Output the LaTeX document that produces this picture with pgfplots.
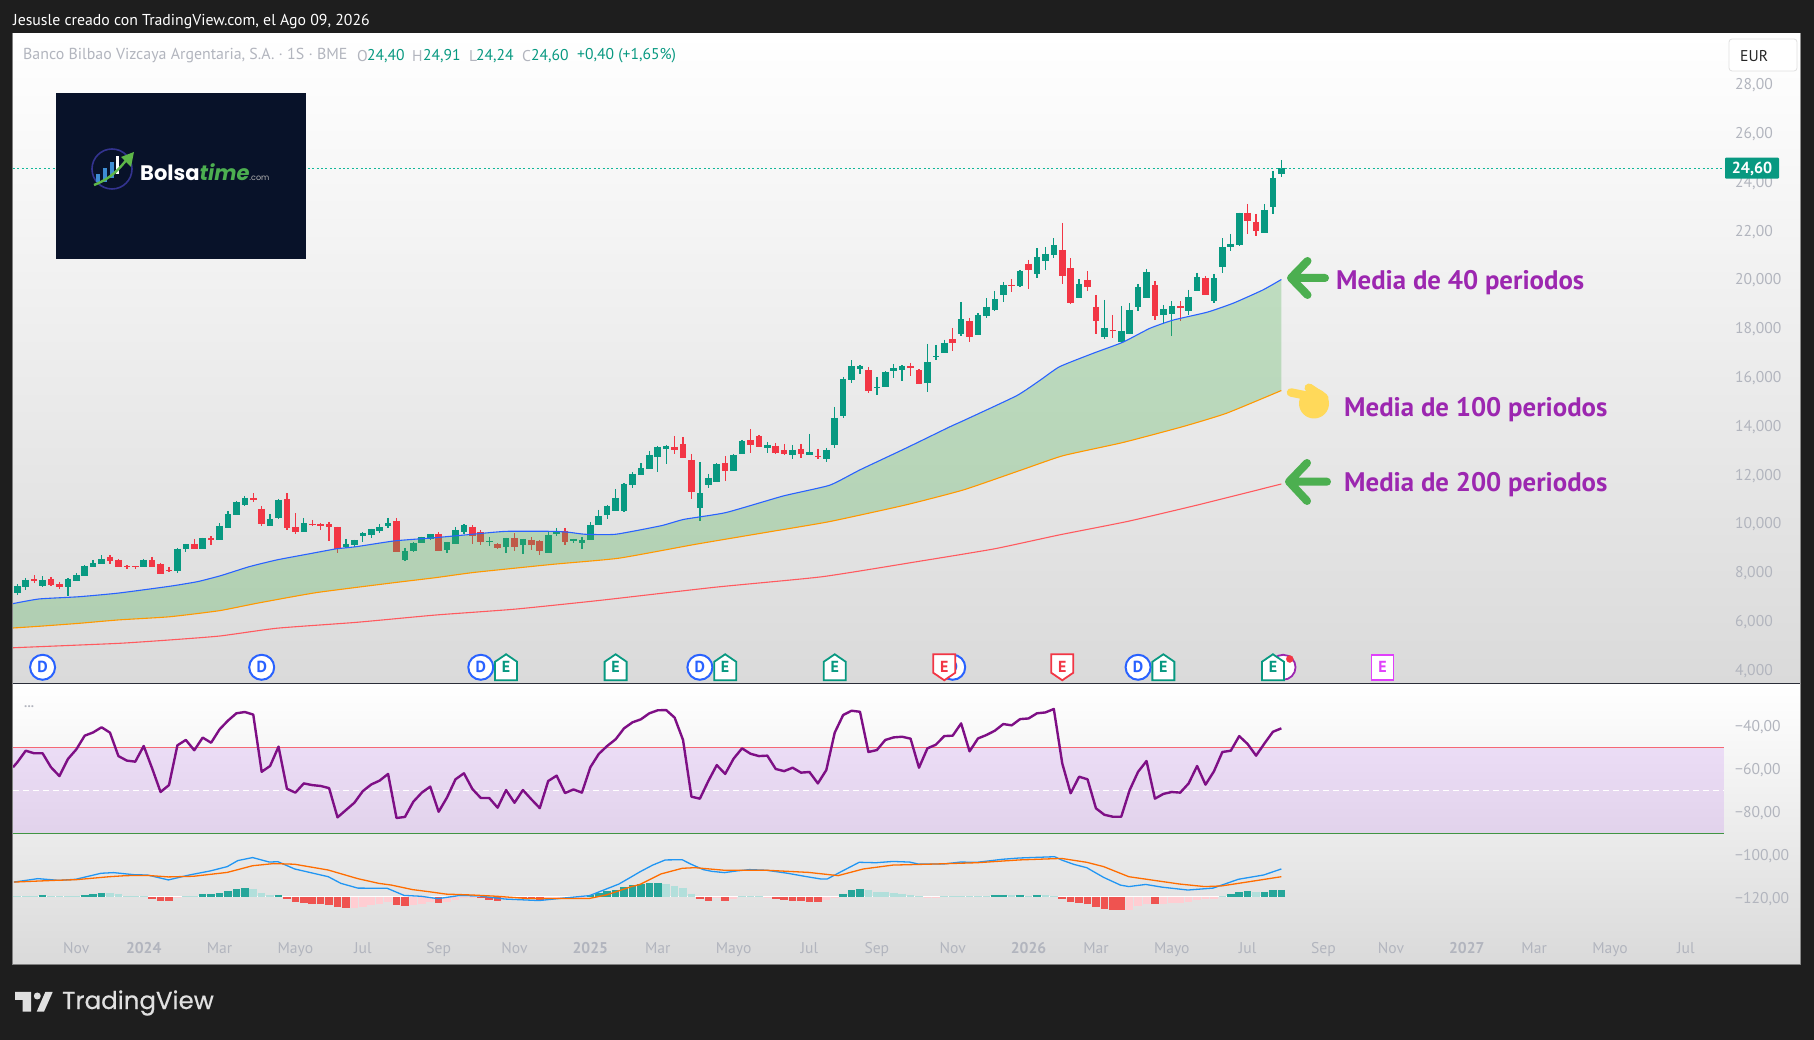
\documentclass[border=0pt]{standalone}
\usepackage{fontspec}
\setmainfont{PT Sans}
\newfontfamily\tvfont{Poppins}
\newfontfamily\tvmed[FakeBold=0.5]{Poppins}
\usepackage{pgfplots}
\usepackage{pgfplotstable}
\pgfplotsset{compat=1.18}
\definecolor{bgdark}{HTML}{1E1E1E}
\definecolor{cup}{HTML}{089981}
\definecolor{cdown}{HTML}{F23645}
\definecolor{ticklab}{HTML}{B2B5BE}
\definecolor{ma1}{HTML}{2962FF}
\definecolor{ma2}{HTML}{FF9800}
\definecolor{ma3}{HTML}{FF5A5F}
\definecolor{rsiline}{HTML}{7E0F85}
\definecolor{rsiband}{HTML}{AE4AF0}
\definecolor{rsicirc}{HTML}{9C27B0}
\definecolor{macdb}{HTML}{2196F3}
\definecolor{macdo}{HTML}{FF6D00}
\definecolor{hdt}{HTML}{26A69A}
\definecolor{hlt}{HTML}{B2DFDB}
\definecolor{hdr}{HTML}{EF5350}
\definecolor{hlr}{HTML}{FFCDD2}
\definecolor{annot}{HTML}{9C27B0}
\definecolor{arrowg}{HTML}{4CAF50}
\definecolor{hand}{HTML}{FFD95A}
\definecolor{logobg}{HTML}{081229}
\definecolor{evm}{HTML}{E040FB}
\definecolor{sep}{HTML}{2A2E39}
\definecolor{priceline}{HTML}{12B89A}
\pgfdeclareplotmark{ehouse}{%
  \pgfpathmoveto{\pgfqpoint{-11pt}{-13pt}}\pgfpathlineto{\pgfqpoint{11pt}{-13pt}}%
  \pgfpathlineto{\pgfqpoint{11pt}{5.5pt}}\pgfpathlineto{\pgfqpoint{0pt}{13pt}}%
  \pgfpathlineto{\pgfqpoint{-11pt}{5.5pt}}\pgfpathclose\pgfusepathqfillstroke}
\pgfdeclareplotmark{eshield}{%
  \pgfpathmoveto{\pgfqpoint{-11pt}{13pt}}\pgfpathlineto{\pgfqpoint{11pt}{13pt}}%
  \pgfpathlineto{\pgfqpoint{11pt}{-5.5pt}}\pgfpathlineto{\pgfqpoint{0pt}{-13pt}}%
  \pgfpathlineto{\pgfqpoint{-11pt}{-5.5pt}}\pgfpathclose\pgfusepathqfillstroke}
\pgfdeclareplotmark{esquare}{%
  \pgfpathrectangle{\pgfqpoint{-11pt}{-12.5pt}}{\pgfqpoint{22pt}{25pt}}\pgfusepathqfillstroke}
\pgfplotstableread{
i o h l c
0 7.11 7.48 7.05 7.40
1 7.36 7.73 7.25 7.65
3 7.40 7.81 7.36 7.65
6 7.36 7.71 6.99 7.69
7 7.61 7.93 7.60 7.85
8 7.81 8.26 7.81 8.22
9 8.18 8.47 8.17 8.34
10 8.30 8.67 8.30 8.51
15 8.18 8.51 8.18 8.47
19 8.02 8.96 7.93 8.92
20 8.92 9.13 8.80 9.12
22 8.92 9.38 8.92 9.37
24 9.29 9.98 9.29 9.86
25 9.78 10.48 9.78 10.35
26 10.31 10.89 10.31 10.84
27 10.72 11.09 10.68 11.01
30 9.86 10.35 9.86 10.15
31 10.19 10.97 10.15 10.93
34 9.61 10.19 9.61 9.98
39 8.99 9.33 8.95 9.12
40 9.07 9.30 9.01 9.29
41 9.45 9.61 9.20 9.57
42 9.49 9.75 9.37 9.74
43 9.66 9.94 9.57 9.82
44 9.86 10.19 9.78 9.98
46 8.47 8.96 8.43 8.84
47 8.84 9.20 8.80 9.16
48 9.16 9.42 9.15 9.41
49 9.33 9.54 9.29 9.53
51 8.88 9.21 8.75 9.20
52 9.12 9.82 9.12 9.70
53 9.61 9.94 9.53 9.90
56 9.22 9.41 9.04 9.25
58 9.00 9.38 8.75 9.37
60 9.08 9.34 8.71 9.33
63 8.75 9.61 8.75 9.49
64 9.53 9.78 9.45 9.66
66 9.25 9.34 9.16 9.33
67 9.16 9.41 8.92 9.29
68 9.29 10.02 9.29 9.90
69 9.90 10.52 9.90 10.27
70 10.31 10.72 10.15 10.68
71 10.48 11.38 10.48 11.01
72 10.48 11.62 10.43 11.58
73 11.54 12.07 11.42 11.99
74 11.95 12.44 11.94 12.24
75 12.20 12.93 12.20 12.77
76 12.69 13.14 12.07 13.10
77 13.02 13.18 12.40 13.14
81 10.60 12.48 10.07 11.21
82 11.54 11.99 11.42 11.83
83 11.66 12.44 11.66 12.40
85 12.11 12.81 12.11 12.77
86 12.81 13.39 12.81 13.34
89 13.06 13.30 12.85 13.18
92 12.77 13.18 12.61 12.98
94 12.77 13.63 12.77 12.89
96 12.61 13.06 12.48 12.98
97 13.18 14.74 13.06 14.29
98 14.37 15.97 14.29 15.89
99 15.84 16.66 15.72 16.42
100 16.30 16.46 16.09 16.42
102 15.52 15.97 15.23 15.56
103 15.56 16.21 15.55 16.17
104 16.21 16.50 15.93 16.34
105 16.25 16.44 15.80 16.42
108 15.72 17.32 15.35 16.58
109 16.79 17.28 16.66 16.83
110 16.95 17.50 16.95 17.36
112 17.73 19.04 17.65 18.34
114 17.69 18.57 17.69 18.51
115 18.47 19.20 18.39 18.84
116 18.71 19.49 18.67 19.16
117 19.33 19.86 19.04 19.74
119 19.70 20.35 19.66 20.31
121 20.19 21.25 20.02 20.89
122 20.72 21.30 20.35 21.01
123 20.97 21.66 20.84 21.38
126 19.20 19.98 19.20 19.78
129 17.61 19.12 17.52 17.98
131 17.40 18.88 17.36 17.85
132 17.73 19.00 17.73 18.71
133 18.84 19.78 18.67 19.66
134 19.20 20.39 19.20 20.27
136 18.51 18.92 18.14 18.75
137 18.55 19.08 17.65 18.88
139 18.67 19.53 18.51 19.25
140 19.49 20.23 19.49 20.07
142 19.08 20.19 19.00 20.02
143 20.48 21.66 20.23 21.30
144 21.30 21.83 21.13 21.42
145 21.38 22.70 21.34 22.69
148 21.87 23.06 21.87 22.81
149 22.93 24.41 22.65 24.12
150 24.29 24.86 24.16 24.53
}\upcandles
\pgfplotstableread{
i o h l c
2 7.69 7.85 7.52 7.61
4 7.69 7.77 7.42 7.44
5 7.48 7.57 7.28 7.36
11 8.59 8.67 8.30 8.43
12 8.47 8.51 8.18 8.18
13 8.22 8.26 8.10 8.18
14 8.21 8.22 8.10 8.18
16 8.47 8.59 8.18 8.18
17 8.30 8.34 7.89 7.89
18 8.06 8.18 7.98 8.02
21 9.12 9.33 8.92 8.92
23 9.37 9.45 9.08 9.29
28 11.01 11.21 10.84 10.93
29 10.56 10.68 9.86 9.94
32 10.97 11.21 9.70 9.78
33 9.82 10.39 9.53 9.61
35 9.94 10.11 9.86 9.90
36 9.94 9.98 9.70 9.86
37 9.94 10.02 9.25 9.82
38 9.82 9.83 8.75 8.92
45 10.07 10.19 8.80 8.80
50 9.53 9.61 8.84 8.84
54 9.82 9.90 9.12 9.45
55 9.61 9.70 9.08 9.20
57 9.12 9.16 8.92 8.96
59 9.37 9.57 8.84 9.00
61 9.29 9.41 8.88 9.08
62 9.25 9.29 8.67 8.84
65 9.66 9.78 9.08 9.20
78 13.10 13.55 12.81 12.98
79 13.22 13.51 12.65 12.65
80 12.57 12.81 10.97 11.25
84 12.44 12.73 11.70 12.11
87 13.39 13.84 12.85 13.18
88 13.55 13.59 13.10 13.10
90 13.14 13.26 12.81 12.85
91 12.98 13.22 12.77 12.81
93 13.02 13.22 12.65 12.81
95 12.73 13.02 12.61 12.69
101 16.25 16.38 15.31 15.39
106 16.42 16.54 16.01 16.34
107 16.25 16.29 15.68 15.68
111 17.52 17.98 17.03 17.36
113 18.26 18.39 17.40 17.61
118 19.74 19.98 19.45 19.70
120 20.60 20.76 19.57 20.35
124 21.17 22.28 19.78 20.11
125 20.43 20.84 18.96 19.00
127 19.94 20.31 19.49 19.66
128 18.84 19.33 17.73 18.26
130 17.89 18.51 17.56 17.85
135 19.74 19.90 18.30 18.47
138 18.88 19.08 18.26 18.80
141 20.02 20.11 19.33 19.33
146 22.69 23.06 21.83 22.36
147 22.32 22.65 21.75 21.95
}\downcandles
\pgfplotstableread{
i h
3 0.9
8 0.9
9 1.4
10 1.9
22 1.4
23 1.4
24 1.9
25 2.8
26 3.7
27 4.2
31 0.9
68 0.8
69 1.9
70 2.8
71 3.3
72 4.7
73 5.6
74 6.0
75 6.5
76 6.5
98 1.4
99 3.3
100 3.7
116 0.9
117 0.9
119 0.9
121 0.9
144 1.4
145 2.3
146 2.8
148 2.3
149 3.3
150 3.3
}\histdt
\pgfplotstableread{
i h
0 0.2
1 0.5
2 0.5
4 0.2
5 0.2
6 0.2
7 0.5
11 1.9
12 1.4
13 0.5
14 0.3
15 0.2
20 0.5
21 0.5
28 3.7
29 1.9
30 0.9
77 6.0
78 5.1
79 4.2
80 1.4
86 0.2
87 0.2
88 0.2
101 3.3
102 2.3
103 2.3
104 1.9
105 1.4
106 0.9
107 0.2
110 0.2
111 0.2
112 0.5
113 0.2
114 0.5
115 0.5
118 0.8
120 0.5
122 0.8
123 0.3
143 0.5
147 2.3
}\histlt
\pgfplotstableread{
i h
16 0.9
17 1.9
18 1.9
32 0.9
33 2.3
34 2.8
35 3.3
36 3.3
37 3.7
38 4.7
39 5.1
45 3.7
46 4.2
50 2.8
55 0.2
56 1.4
57 1.9
60 0.5
61 0.8
62 1.4
81 0.9
82 1.9
84 1.9
90 0.9
91 1.4
92 1.9
93 1.9
94 2.3
95 2.3
124 0.9
125 2.3
126 2.8
127 3.3
128 4.7
129 5.6
130 6.0
131 6.0
135 3.3
}\histdr
\pgfplotstableread{
i h
19 0.6
40 5.1
41 4.7
42 3.7
43 3.3
44 2.3
47 3.7
48 3.3
49 2.3
51 2.3
52 1.4
53 0.5
54 0.3
58 0.9
59 0.5
63 0.8
64 0.5
65 0.3
66 0.3
67 0.2
83 0.6
85 0.9
89 0.2
96 1.4
97 0.6
108 0.5
109 0.5
132 6.0
133 4.2
134 3.3
136 3.3
137 2.9
138 2.8
139 2.3
140 1.4
141 0.9
142 0.9
}\histlr
\pgfplotstableread{
i v
-0.51 -59.8
0 -57.5
1 -52.1
2 -53.3
3 -53.3
4 -59.8
5 -63.9
6 -56.0
7 -51.5
8 -45.1
9 -43.6
10 -41.2
11 -43.7
12 -54.6
13 -56.7
14 -57.2
15 -49.9
16 -60.3
17 -71.3
18 -68.1
19 -49.6
20 -47.1
21 -51.9
22 -46.0
23 -48.4
24 -42.2
25 -38.1
26 -34.7
27 -34.1
28 -35.3
29 -61.9
30 -59.2
31 -50.2
32 -69.8
33 -71.6
34 -67.3
35 -68.1
36 -68.5
37 -69.5
38 -83.1
39 -79.7
40 -76.3
41 -70.9
42 -67.8
43 -66.0
44 -62.9
45 -83.4
46 -82.9
47 -75.8
48 -71.6
49 -68.8
50 -80.5
51 -73.8
52 -65.4
53 -62.6
54 -69.9
55 -74.1
56 -74.1
57 -78.6
58 -70.4
59 -76.3
60 -70.4
61 -74.7
62 -78.8
63 -66.2
64 -63.7
65 -71.8
66 -70.1
67 -71.6
68 -59.8
69 -53.6
70 -49.9
71 -46.8
72 -41.7
73 -38.9
74 -37.5
75 -34.7
76 -33.3
77 -33.2
78 -36.7
79 -47.1
80 -73.5
81 -74.4
82 -66.2
83 -58.8
84 -62.9
85 -55.8
86 -51.0
87 -53.5
88 -54.6
89 -54.4
90 -60.6
91 -61.6
92 -60.0
93 -62.3
94 -62.0
95 -67.3
96 -61.1
97 -43.7
98 -35.5
99 -33.5
100 -34.0
101 -52.7
102 -51.8
103 -47.1
104 -45.9
105 -45.6
106 -46.5
107 -60.0
108 -51.0
109 -49.3
110 -45.3
111 -45.1
112 -39.4
113 -52.4
114 -46.4
115 -44.8
116 -42.8
117 -39.7
118 -40.3
119 -37.4
120 -37.1
121 -34.7
122 -34.3
123 -32.7
124 -58.0
125 -71.9
126 -64.2
127 -65.4
128 -78.9
129 -81.9
130 -82.8
131 -82.8
132 -70.4
133 -61.9
134 -56.9
135 -74.4
136 -72.2
137 -71.3
138 -71.6
139 -67.3
140 -59.2
141 -67.9
142 -61.7
143 -52.7
144 -52.1
145 -45.3
146 -49.0
147 -54.4
148 -48.7
149 -43.3
150 -41.7
}\rsi
\pgfplotsset{
  pane/.style={
    scale only axis, anchor=south west, width=1711pt,
    xmin=-0.51, xmax=202.53, clip=true,
    axis line style={draw=none}, tick style={draw=none},
    major tick length=0pt, yticklabel pos=right,
    y tick label style={anchor=west, inner sep=0pt, xshift=11pt, yshift=-2pt, text=ticklab, font=\fontsize{15.6}{18}\selectfont},
  },
}
\begin{document}
\begin{tikzpicture}
\begin{scope}[x=1pt,y=1pt]
  \fill[bgdark] (0,0) rectangle (1814,1040);
  \draw[line width=1.5pt,color=black!50] (13,76) rectangle (1800,1006);
  \shade[top color=white,bottom color=black!14.5] (13,356) rectangle (1800,1006);
  \shade[top color=white,bottom color=black!14.5] (13,76) rectangle (1800,356);
  \draw[line width=1pt,color=sep] (13,356) -- (1800,356);
\end{scope}
%------------ main pane
\begin{axis}[pane, at={(13pt,356pt)}, height=650pt, ymin=3.385, ymax=30.02,
  xtick=\empty,
  ytick={4,6,8,10,12,14,16,18,20,22,24,26,28},
  yticklabels={{4,000},{6,000},{8,000},{10,000},{12,000},{14,000},{16,000},{18,000},{20,000},{22,00},{24,00},{26,00},{28,00}},
]
  % wicks
  \addplot[draw=none, mark=none, error bars/.cd, y dir=minus, y explicit, error mark=none, error bar style={draw=cup, line width=1.3pt}]
    table[x=i, y=h, y error expr=\thisrow{h}-\thisrow{l}] {\upcandles};
  \addplot[draw=none, mark=none, error bars/.cd, y dir=minus, y explicit, error mark=none, error bar style={draw=cdown, line width=1.3pt}]
    table[x=i, y=h, y error expr=\thisrow{h}-\thisrow{l}] {\downcandles};
  % bodies
  \addplot[draw=none, mark=none, error bars/.cd, y dir=minus, y explicit, error mark=none, error bar style={draw=cup, line width=6.6pt}]
    table[x=i, y=c, y error expr=\thisrow{c}-\thisrow{o}] {\upcandles};
  \addplot[draw=none, mark=none, error bars/.cd, y dir=minus, y explicit, error mark=none, error bar style={draw=cdown, line width=6.6pt}]
    table[x=i, y=o, y error expr=\thisrow{o}-\thisrow{c}] {\downcandles};
  % band between the 40 and the 100 period averages
  \addplot[draw=none, fill=arrowg, fill opacity=0.3] coordinates {
    (-0.5,6.68)(2.6,6.87)(7.3,6.96)(12,7.11)(18.1,7.39)(21.4,7.58)(24.2,7.83)(27.5,8.19)(30.8,8.47)(34.5,8.71)(37.8,8.92)(40.2,9.01)(44.8,9.25)(49.6,9.38)(54.3,9.53)(58,9.64)(63.6,9.64)(65.5,9.60)(67.4,9.52)(71,9.52)(76.4,9.87)(79.1,10.13)(84.1,10.41)(90.9,11.09)(96.4,11.53)(100,12.16)(105.4,13.04)(110.7,13.93)(112.3,14.18)(118.6,15.2)(121.4,15.84)(123.7,16.39)(127.7,16.94)(131.2,17.39)(134.4,17.96)(137.2,18.3)(141.2,18.62)(144.3,18.99)(147.8,19.53)(150,19.96)
    (150,15.41)(143.5,14.48)(138.3,13.93)(131.2,13.28)(124.1,12.74)(119.2,12.16)(112.3,11.34)(105.4,10.72)(96.4,10.04)(89.6,9.64)(80.5,9.11)(71.4,8.54)(63.6,8.29)(54.3,7.96)(49.6,7.74)(44.8,7.54)(35.5,7.13)(28.4,6.69)(24,6.39)(18.1,6.14)(12,6.01)(7.3,5.87)(2.6,5.75)(-0.5,5.68)
  } --cycle;
  % averages
  \addplot[ma1, line width=1.1pt, mark=none, smooth, tension=0.3] coordinates {
    (-0.5,6.68)(2.6,6.87)(7.3,6.96)(12,7.11)(18.1,7.39)(21.4,7.58)(24.2,7.83)(27.5,8.19)(30.8,8.47)(34.5,8.71)(37.8,8.92)(40.2,9.01)(44.8,9.25)(49.6,9.38)(54.3,9.53)(58,9.64)(63.6,9.64)(65.5,9.60)(67.4,9.52)(71,9.52)(76.4,9.87)(79.1,10.13)(84.1,10.41)(90.9,11.09)(96.4,11.53)(100,12.16)(105.4,13.04)(110.7,13.93)(112.3,14.18)(118.6,15.2)(121.4,15.84)(123.7,16.39)(127.7,16.94)(131.2,17.39)(134.4,17.96)(137.2,18.3)(141.2,18.62)(144.3,18.99)(147.8,19.53)(150,19.96)};
  \addplot[ma2, line width=1.1pt, mark=none, smooth, tension=0.3] coordinates {
    (-0.5,5.68)(2.6,5.75)(7.3,5.87)(12,6.01)(18.1,6.14)(24,6.39)(28.4,6.69)(35.5,7.13)(44.8,7.54)(49.6,7.74)(54.3,7.96)(63.6,8.29)(71.4,8.54)(80.5,9.11)(89.6,9.64)(96.4,10.04)(105.4,10.72)(112.3,11.34)(119.2,12.16)(124.1,12.74)(131.2,13.28)(138.3,13.93)(143.5,14.48)(150,15.41)};
  \addplot[ma3, line width=1.1pt, mark=none, smooth, tension=0.3] coordinates {
    (-0.5,4.87)(12,5.05)(18.1,5.19)(24,5.35)(30.8,5.67)(40.2,5.91)(49.6,6.21)(59,6.45)(69.1,6.81)(82.8,7.35)(95.5,7.78)(106.8,8.40)(115.9,8.92)(123.6,9.49)(131.8,10.05)(140.3,10.74)(150,11.58)};
  % last price line
  \addplot[color=priceline, line width=1.4pt, dash pattern=on 2pt off 2.4pt, mark=none] coordinates {(-0.51,24.50)(202.53,24.50)};
  % events
  \addplot[only marks, mark=*, mark size=12.5pt, mark options={fill=white, draw=rsicirc, line width=1.8pt}] coordinates {(150.2,4.07)};
  \addplot[only marks, mark=*, mark size=3.5pt, mark options={fill=cdown, draw=cdown}] coordinates {(151,4.41)};
  \addplot[only marks, mark=*, mark size=12.5pt, mark options={fill=white, draw=ma1, line width=2pt},
    nodes near coords=D, every node near coord/.append style={anchor=center, text=ma1, inner sep=0pt, font=\bfseries\fontsize{16}{18}\selectfont}]
    coordinates {(3,4.07)(29,4.07)(55,4.07)(81,4.07)(111,4.07)(133,4.07)};
  \addplot[only marks, mark=ehouse, mark options={fill=white, draw=cup, line width=1.8pt},
    nodes near coords=E, every node near coord/.append style={anchor=center, text=cup, inner sep=0pt, font=\bfseries\fontsize{16}{18}\selectfont}]
    coordinates {(58,4.07)(71,4.07)(84,4.07)(97,4.07)(136,4.07)(149,4.07)};
  \addplot[only marks, mark=eshield, mark options={fill=white, draw=cdown, line width=1.8pt},
    nodes near coords=E, every node near coord/.append style={anchor=center, text=cdown, inner sep=0pt, font=\bfseries\fontsize{16}{18}\selectfont}]
    coordinates {(110,4.07)(124,4.07)};
  \addplot[only marks, mark=esquare, mark options={fill=white, draw=evm, line width=1.8pt},
    nodes near coords=E, every node near coord/.append style={anchor=center, text=evm, inner sep=0pt, font=\bfseries\fontsize{16}{18}\selectfont}]
    coordinates {(162,4.07)};
\end{axis}
%------------ lower pane
\begin{axis}[pane, at={(13pt,76pt)}, height=280pt, ymin=-151.3, ymax=-21.07,
  ytick={-120,-100,-80,-60,-40},
  yticklabels={{−120,00},{−100,00},{−80,00},{−60,00},{−40,00}},
  xtick={7,15,24,33,41,50,59,68,76,85,94,102,111,120,128,137,146,155,163,172,180,189,198},
  xticklabels={Nov,\textbf{2024},Mar,Mayo,Jul,Sep,Nov,\textbf{2025},Mar,Mayo,Jul,Sep,Nov,\textbf{2026},Mar,Mayo,Jul,Sep,Nov,\textbf{2027},Mar,Mayo,Jul},
  x tick label style={anchor=center, text height=11pt, text depth=3pt, yshift=14.5pt, text=ticklab, font=\fontsize{15.6}{18}\selectfont},
]
  \addplot[draw=none, fill=rsiband, fill opacity=0.15] coordinates {(-0.51,-50.5)(202.53,-50.5)(202.53,-90.5)(-0.51,-90.5)} --cycle;
  \addplot[cdown!75!white, line width=1.2pt, mark=none] coordinates {(-0.51,-50.5)(202.53,-50.5)};
  \addplot[arrowg!85!black, line width=1.2pt, mark=none] coordinates {(-0.51,-90.5)(202.53,-90.5)};
  \addplot[white, line width=1.2pt, dash pattern=on 6pt off 4pt, mark=none] coordinates {(-0.51,-70.5)(202.53,-70.5)};
  \addplot[rsiline, line width=2.4pt, mark=none, line join=round] table[x=i, y=v] {\rsi};
  % MACD histogram
  \addplot[white, line width=1pt, mark=none] coordinates {(-0.51,-120.1)(150,-120.1)};
  \addplot[draw=none, mark=none, error bars/.cd, y dir=minus, y explicit, error mark=none, error bar style={draw=hdt, line width=7.6pt}]
    table[x=i, y expr=-120.1+\thisrow{h}, y error expr=\thisrow{h}] {\histdt};
  \addplot[draw=none, mark=none, error bars/.cd, y dir=minus, y explicit, error mark=none, error bar style={draw=hlt, line width=7.6pt}]
    table[x=i, y expr=-120.1+\thisrow{h}, y error expr=\thisrow{h}] {\histlt};
  \addplot[draw=none, mark=none, error bars/.cd, y dir=plus, y explicit, error mark=none, error bar style={draw=hdr, line width=7.6pt}]
    table[x=i, y expr=-120.1-\thisrow{h}, y error expr=\thisrow{h}] {\histdr};
  \addplot[draw=none, mark=none, error bars/.cd, y dir=plus, y explicit, error mark=none, error bar style={draw=hlr, line width=7.6pt}]
    table[x=i, y expr=-120.1-\thisrow{h}, y error expr=\thisrow{h}] {\histlr};
  % MACD lines
  \addplot[macdb, line width=1.3pt, mark=none] coordinates {
    (-0.4,-113.2)(2.44,-111.6)(4.94,-112.4)(6.94,-111.9)(9.94,-109.1)(11.43,-108.8)(13.93,-109.8)(15.43,-109.9)(17.93,-112.2)(20.42,-109.9)(22.92,-108.0)(24.92,-106.0)(26.17,-103.2)(27.92,-101.8)(29.92,-103.9)(30.92,-103.7)(32.91,-107.1)(36.9,-110.7)(38.4,-113.8)(40.4,-116.0)(43.9,-116.1)(45.9,-119.4)(47.9,-119.8)(49.9,-120.9)(52.4,-119.5)(54.9,-119.7)(57.9,-121.1)(61.9,-121.8)(64.9,-120.6)(67.9,-119.5)(71.4,-114.1)(72.9,-110.7)
    (73.9,-108.4)(75.4,-105.3)(76.9,-102.9)(78.9,-102.8)(79.9,-104.8)(81.4,-107.4)(82.4,-108.2)(83.9,-108.8)(85.4,-108.0)(86.9,-107.4)(88.9,-107.7)(91.4,-109.1)(93.4,-110.5)(95.4,-111.8)(96.1,-111.8)(97.4,-109.1)(99.9,-104.0)(101.9,-104.2)(103.9,-103.6)(105.9,-103.9)(106.9,-104.8)(109.9,-104.8)(111.9,-103.9)(113.9,-104.0)(116.9,-102.6)(118.9,-102.0)(123.1,-101.4)(123.9,-102.9)(125.4,-105.0)(126.9,-106.5)(128.9,-111.0)(130.9,-114.6)(131.9,-115.3)(133.9,-114.3)(135.9,-115.6)(138.9,-116.9)(141.9,-116.0)(144.9,-111.9)(147.9,-109.9)(150,-107.1)};
  \addplot[macdo, line width=1.3pt, mark=none] coordinates {
    (-0.4,-113.2)(4.44,-112.4)(6.94,-112.1)(10.93,-110.7)(12.93,-110.2)(15.43,-110.1)(17.93,-110.8)(20.92,-110.5)(24.92,-108.7)(27.92,-105.6)(30.42,-104.6)(32.91,-104.9)(36.9,-107.6)(40.4,-111.6)(42.9,-113.8)(44.4,-114.6)(46.9,-116.7)(48.9,-117.7)(50.9,-118.8)(53.9,-119.2)(56.9,-119.8)(60.4,-120.8)(67.9,-120.8)(69.9,-119.2)(72.9,-115.3)
    (73.9,-114.3)(76.4,-109.4)(78.9,-106.8)(80.4,-106.5)(83.9,-107.7)(88.9,-107.7)(93.9,-108.7)(97.4,-110.2)(100.4,-107.1)(103.9,-105.3)(108.9,-104.8)(113.9,-104.2)(118.9,-102.9)(123.9,-102.2)(126.9,-104.0)(128.9,-106.0)(131.9,-110.7)(134.9,-112.4)(137.9,-114.1)(140.9,-115.3)(142.9,-115.0)(145.9,-113.2)(150,-110.7)};
\end{axis}
%------------ texts and furniture
\begin{scope}[x=1pt,y=1pt]
  \node[anchor=west, inner sep=0pt, text=white, font=\fontsize{15.8}{18}\selectfont] at (13,1018) {Jesusle creado con TradingView.com, el Ago 09, 2026};
  \node[anchor=west, inner sep=0pt, text=ticklab, font=\fontsize{15.9}{18}\selectfont] at (23,984.3) {Banco Bilbao Vizcaya Argentaria, S.A. · 1S · BME};
  \node[anchor=west, inner sep=0pt, text=ticklab, font=\fontsize{15.6}{18}\selectfont] at (357,984.3) {O};
  \node[anchor=west, inner sep=0pt, text=cup, font=\fontsize{15.6}{18}\selectfont] at (367,984.3) {24,40};
  \node[anchor=west, inner sep=0pt, text=ticklab, font=\fontsize{15.6}{18}\selectfont] at (412,984.3) {H};
  \node[anchor=west, inner sep=0pt, text=cup, font=\fontsize{15.6}{18}\selectfont] at (423,984.3) {24,91};
  \node[anchor=west, inner sep=0pt, text=ticklab, font=\fontsize{15.6}{18}\selectfont] at (469,984.3) {L};
  \node[anchor=west, inner sep=0pt, text=cup, font=\fontsize{15.6}{18}\selectfont] at (476,984.3) {24,24};
  \node[anchor=west, inner sep=0pt, text=ticklab, font=\fontsize{15.6}{18}\selectfont] at (522,984.3) {C};
  \node[anchor=west, inner sep=0pt, text=cup, font=\fontsize{15.6}{18}\selectfont] at (531,984.3) {24,60};
  \node[anchor=west, inner sep=0pt, text=cup, font=\fontsize{15.6}{18}\selectfont] at (577,984.3) {+0,40 (+1,65\%)};
  % logo
  \fill[logobg] (56,781) rectangle (306,947);
  \draw[line width=1.6pt, color=blue!45!black!80!white] (112,871) circle (20);
  \fill[cyan!60!blue!80!white] (96,858) rectangle (100,866);
  \fill[cyan!60!blue!80!white] (103,858) rectangle (107,872);
  \fill[cyan!60!blue!80!white] (110,862) rectangle (114,878);
  \fill[white] (116,866) rectangle (119,884);
  \draw[line width=2.4pt, color=arrowg!90!yellow] (94,855) .. controls (112,862) and (120,872) .. (128,882);
  \fill[arrowg!90!yellow] (134,888) -- (121,883) -- (131,873) -- cycle;
  \node[anchor=west, inner sep=0pt, text=white, font=\tvfont\bfseries\fontsize{21}{24}\selectfont] at (140,868) {Bolsa\textcolor{arrowg}{\itshape time}\textcolor{black!30}{\mdseries\upshape\fontsize{8}{9}\selectfont.com}};
  % EUR box
  \filldraw[fill=white, rounded corners=3pt, draw=black!12, line width=0.8pt] (1729,969) rectangle (1797,1001);
  \node[anchor=west, inner sep=0pt, text=black!85, font=\fontsize{15.6}{18}\selectfont] at (1740,984.3) {EUR};
  % price tag
  \fill[cup, rounded corners=1pt] (1725,861.3) rectangle (1779,882.3);
  \node[inner sep=0pt, text=white, font=\bfseries\fontsize{16}{18}\selectfont] at (1752,870.8) {24,60};
  % dots
  \node[anchor=west, inner sep=0pt, text=ticklab, font=\bfseries\fontsize{13}{14}\selectfont] at (24,333) {...};
  % annotations
  \draw[arrowg, line width=8pt, line cap=round, line join=round] (1325,762) -- (1291,762) (1307.5,779) -- (1291,762) -- (1307.5,745);
  \draw[arrowg, line width=8pt, line cap=round, line join=round] (1327,558.3) -- (1289,558.3) (1307,577) -- (1289,558.3) -- (1307,539);
  \fill[hand] (1314,636.5) circle (15);
  \draw[hand, line width=8.5pt, line cap=round] (1291,647.5) -- (1318,642);
  \draw[hand, line width=9pt, line cap=round] (1309,652) -- (1324,642);
  \node[anchor=west, inner sep=0pt, text=annot, font=\bfseries\fontsize{26.8}{30}\selectfont] at (1336,757.3) {Media de 40 periodos};
  \node[anchor=west, inner sep=0pt, text=annot, font=\bfseries\fontsize{26.8}{30}\selectfont] at (1344,630) {Media de 100 periodos};
  \node[anchor=west, inner sep=0pt, text=annot, font=\bfseries\fontsize{26.8}{30}\selectfont] at (1344,555.3) {Media de 200 periodos};
  % TradingView
  \fill[black!12] (15,1040-992) -- (31,1040-992) -- (31,1040-1011.7) -- (22.7,1040-1011.7) -- (22.7,1040-1000) -- (15,1040-1000) -- cycle;
  \fill[black!12] (37.3,1040-996) circle (3.5);
  \fill[black!12] (45.3,1040-992) -- (52.7,1040-992) -- (44,1040-1011.7) -- (36.7,1040-1011.7) -- cycle;
  \node[anchor=west, inner sep=0pt, text=black!12, font=\tvmed\fontsize{24.5}{30}\selectfont] at (62,37) {TradingView};
\end{scope}
\end{tikzpicture}
\end{document}
